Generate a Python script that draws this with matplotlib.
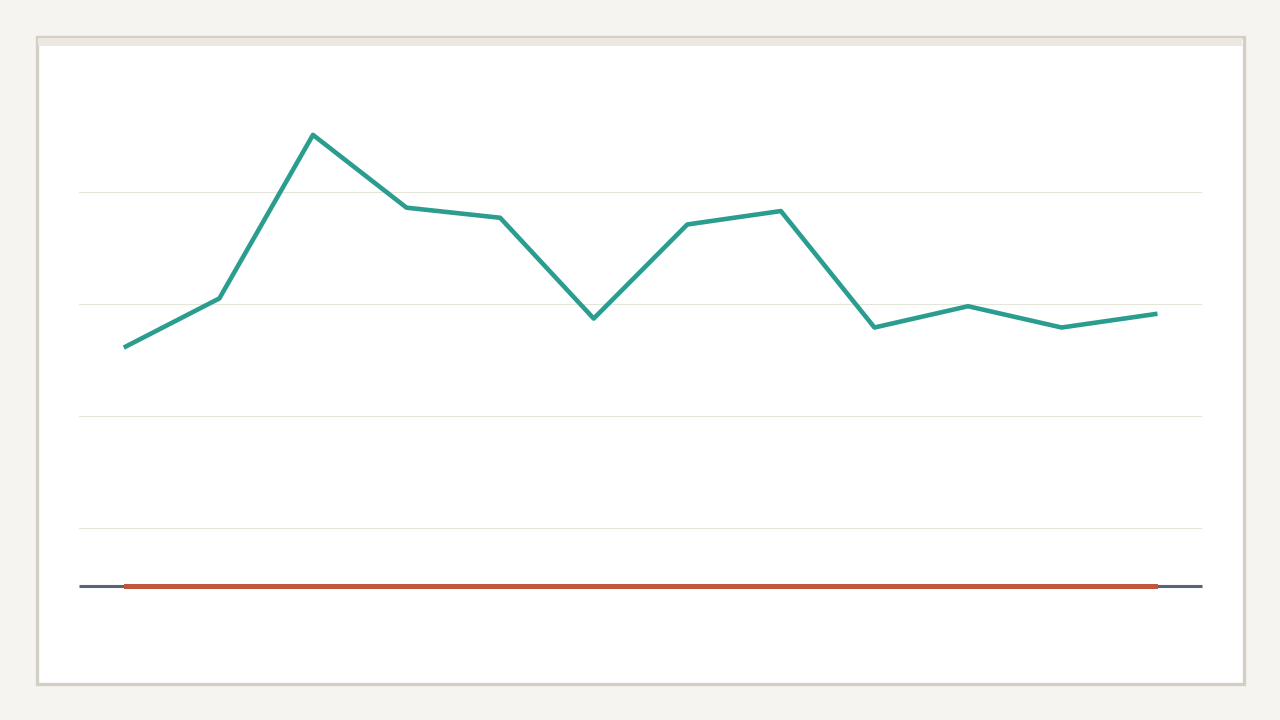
import matplotlib.pyplot as plt
from matplotlib.patches import Rectangle

# values (grid step = 10)
months = list(range(12))
teal_values = [26.2, 30.5, 45.1, 38.6, 37.7, 28.7, 37.1, 38.3, 27.9, 29.8, 27.9, 29.1]
red_values = [4.82] * 12
grid_ticks = [10, 20, 30, 40]

W, H = 1280, 720
fig = plt.figure(figsize=(12.8, 7.2), dpi=100)
fig.patch.set_facecolor('#f5f4f0')

# card behind the chart
fig.patches.append(Rectangle((36.5 / W, 1 - 683.5 / H), 1207 / W, 647 / H,
                             transform=fig.transFigure, facecolor='white',
                             edgecolor='#d3cfc5', linewidth=2.4, zorder=0))
fig.patches.append(Rectangle((38 / W, 1 - 46 / H), 1204 / W, 8 / H,
                             transform=fig.transFigure, facecolor='#ece8df',
                             edgecolor='none', zorder=0.5))

ax = fig.add_axes([79 / W, 1 - 586 / H, 1123 / W, 506 / H])
ax.set_zorder(2)
ax.set_facecolor('none')
ax.set_xlim(-0.5, 11.5)
ax.set_ylim(4.82, 50)

for t in grid_ticks:
    ax.axhline(t, color='#e5e5da', linewidth=0.8, zorder=1)
ax.plot([-0.5, 11.5], [red_values[0]] * 2, color='#5a6472', linewidth=2.2,
        solid_capstyle='butt', zorder=2, clip_on=False)

ax.plot(months, red_values, color='#c4553b', linewidth=3.6,
        solid_capstyle='projecting', zorder=3, clip_on=False)
ax.plot(months, teal_values, color='#2a9d8f', linewidth=3.3,
        solid_capstyle='projecting', solid_joinstyle='round', zorder=4)

for s in ax.spines.values():
    s.set_visible(False)
ax.set_xticks([])
ax.set_yticks([])

fig.savefig('out.png', dpi=100, facecolor=fig.get_facecolor())
